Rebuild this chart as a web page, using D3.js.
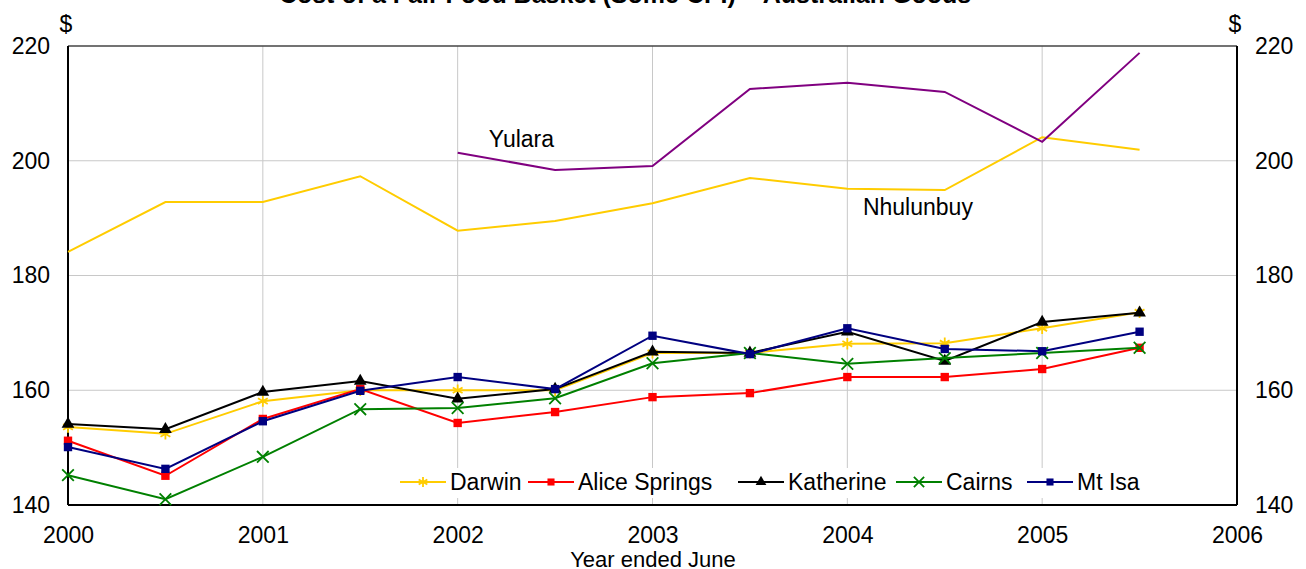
<!DOCTYPE html>
<html>
<head>
<meta charset="utf-8">
<script src="https://cdn.jsdelivr.net/npm/d3@7"></script>
<style>
  body { margin: 0; background: #fff; }
  text { font-family: "Liberation Sans", Arial, sans-serif; fill: #000; }
</style>
</head>
<body>
<div id="chart"></div>
<script>
var svgWidth = 1306;
var svgHeight = 569;

var margin = { top: 46, right: 69, bottom: 64, left: 68 };
var width = svgWidth - margin.left - margin.right;
var height = svgHeight - margin.top - margin.bottom;

// half-year observations, year ended June
var periods = [2000, 2000.5, 2001, 2001.5, 2002, 2002.5, 2003, 2003.5, 2004, 2004.5, 2005, 2005.5];
var yularaPeriods = [2002, 2002.5, 2003, 2003.5, 2004, 2004.5, 2005, 2005.5];

var darwin      = [153.6, 152.4, 158.1, 160.0, 160.0, 160.0, 166.5, 166.5, 168.1, 168.2, 170.8, 173.6];
var aliceSprings = [151.2, 145.1, 155.0, 160.2, 154.3, 156.2, 158.8, 159.5, 162.3, 162.3, 163.7, 167.4];
var katherine   = [154.1, 153.2, 159.7, 161.6, 158.5, 160.2, 166.7, 166.5, 170.2, 165.1, 171.9, 173.5];
var cairns      = [145.2, 141.0, 148.4, 156.7, 156.9, 158.6, 164.7, 166.5, 164.6, 165.6, 166.5, 167.4];
var mtIsa       = [150.1, 146.3, 154.6, 159.9, 162.3, 160.2, 169.5, 166.3, 170.8, 167.2, 166.8, 170.2];
var nhulunbuy   = [184.1, 192.8, 192.8, 197.3, 187.8, 189.5, 192.6, 197.0, 195.1, 194.9, 204.1, 201.9];
var yulara      = [201.4, 198.4, 199.1, 212.5, 213.6, 212.0, 203.3, 218.8];

var xTicks = [2000, 2001, 2002, 2003, 2004, 2005, 2006];
var yTicks = [140, 160, 180, 200, 220];

var markedSeries = [
  { name: "Darwin", values: darwin, color: "#ffcc00", symbol: d3.symbolAsterisk, fill: false },
  { name: "Alice Springs", values: aliceSprings, color: "#ff0000", symbol: d3.symbolSquare, fill: true },
  { name: "Katherine", values: katherine, color: "#000000", symbol: d3.symbolTriangle, fill: true },
  { name: "Cairns", values: cairns, color: "#008000", symbol: d3.symbolTimes, fill: false },
  { name: "Mt Isa", values: mtIsa, color: "#000080", symbol: d3.symbolSquare, fill: true }
];

var fontSize = 23;

var svg = d3.select("#chart")
  .append("svg")
  .attr("width", svgWidth)
  .attr("height", svgHeight);

// title, mostly cut off at the top edge in the source
svg.append("text")
  .attr("x", 625)
  .attr("y", 3)
  .attr("text-anchor", "middle")
  .attr("font-size", 25)
  .attr("font-weight", "bold")
  .text("Cost of a Fair Food Basket (Some CPI) – Australian Goods");

var chart = svg.append("g")
  .attr("transform", `translate(${margin.left}, ${margin.top})`);

var xScale = d3.scaleLinear().domain([2000, 2006]).range([0, width]);
var yScale = d3.scaleLinear().domain([140, 220]).range([height, 0]);

// gridlines
chart.append("g")
  .selectAll("line")
  .data(yTicks.slice(1, -1))
  .enter()
  .append("line")
  .attr("x1", 0).attr("x2", width)
  .attr("y1", d => yScale(d)).attr("y2", d => yScale(d))
  .attr("stroke", "#c8c8c8").attr("stroke-width", 1);

chart.append("g")
  .selectAll("line")
  .data(xTicks.slice(1, -1))
  .enter()
  .append("line")
  .attr("x1", d => xScale(d)).attr("x2", d => xScale(d))
  .attr("y1", 0).attr("y2", height)
  .attr("stroke", "#c8c8c8").attr("stroke-width", 1);

// axes
var leftAxis = d3.axisLeft(yScale).tickValues(yTicks).tickSize(0).tickPadding(18);
var rightAxis = d3.axisRight(yScale).tickValues(yTicks).tickSize(0).tickPadding(18);
var bottomAxis = d3.axisBottom(xScale).tickValues(xTicks).tickSize(0).tickPadding(22).tickFormat(d3.format("d"));

function styleAxis(g) {
  g.select(".domain").remove();
  g.selectAll("text").attr("font-size", fontSize).attr("font-family", "Liberation Sans, Arial, sans-serif");
}

chart.append("g").call(leftAxis).call(styleAxis);
chart.append("g").attr("transform", `translate(${width}, 0)`).call(rightAxis).call(styleAxis);
chart.append("g").attr("transform", `translate(0, ${height})`).call(bottomAxis).call(styleAxis);

// frame
chart.append("line").attr("x1", 0).attr("x2", width).attr("y1", 0).attr("y2", 0)
  .attr("stroke", "#444").attr("stroke-width", 1.5);
chart.append("line").attr("x1", 0).attr("x2", 0).attr("y1", 0).attr("y2", height)
  .attr("stroke", "#000").attr("stroke-width", 2);
chart.append("line").attr("x1", width).attr("x2", width).attr("y1", 0).attr("y2", height)
  .attr("stroke", "#000").attr("stroke-width", 2);
chart.append("line").attr("x1", 0).attr("x2", width).attr("y1", height).attr("y2", height)
  .attr("stroke", "#000").attr("stroke-width", 2);

// units
svg.append("text").attr("x", margin.left - 2).attr("y", 32).attr("text-anchor", "middle")
  .attr("font-size", fontSize).text("$");
svg.append("text").attr("x", margin.left + width - 2).attr("y", 32).attr("text-anchor", "middle")
  .attr("font-size", fontSize).text("$");

svg.append("text")
  .attr("x", 653)
  .attr("y", 567)
  .attr("text-anchor", "middle")
  .attr("font-size", 22)
  .text("Year ended June");

var line = d3.line()
  .x(d => xScale(d[0]))
  .y(d => yScale(d[1]));

// unmarked lines
chart.append("path")
  .datum(periods.map((p, i) => [p, nhulunbuy[i]]))
  .attr("d", line)
  .attr("fill", "none").attr("stroke", "#ffcc00").attr("stroke-width", 2);

chart.append("path")
  .datum(yularaPeriods.map((p, i) => [p, yulara[i]]))
  .attr("d", line)
  .attr("fill", "none").attr("stroke", "#800080").attr("stroke-width", 2);

chart.append("text").attr("x", xScale(2002.16)).attr("y", yScale(202.4)).attr("font-size", fontSize).text("Yulara");
chart.append("text").attr("x", xScale(2004.08)).attr("y", yScale(190.6)).attr("font-size", fontSize).text("Nhulunbuy");

function marker(sel, s, size) {
  sel.attr("d", d3.symbol(s.symbol, size)())
    .attr("fill", s.fill ? s.color : "none")
    .attr("stroke", s.color)
    .attr("stroke-width", s.fill ? 0 : 1.8);
}

markedSeries.forEach(function(s) {
  var pts = periods.map((p, i) => [p, s.values[i]]);
  chart.append("path")
    .datum(pts)
    .attr("d", line)
    .attr("fill", "none").attr("stroke", s.color).attr("stroke-width", 2);

  chart.append("g")
    .selectAll("path")
    .data(pts)
    .enter()
    .append("path")
    .attr("transform", d => `translate(${xScale(d[0])}, ${yScale(d[1])})`)
    .call(marker, s, s.fill ? 70 : 90);
});

// legend
var legendX = [400, 528, 738, 896, 1027];
var legend = svg.append("g");
legend.append("rect").attr("x", 392).attr("y", 468).attr("width", 770).attr("height", 30).attr("fill", "#fff");
markedSeries.forEach(function(s, i) {
  var g = legend.append("g").attr("transform", `translate(${legendX[i]}, 482)`);
  g.append("line").attr("x1", 0).attr("x2", 46).attr("y1", 0).attr("y2", 0)
    .attr("stroke", s.color).attr("stroke-width", 2);
  g.append("path").attr("transform", "translate(23, 0)").call(marker, s, s.fill ? 50 : 70);
  g.append("text").attr("x", 50).attr("y", 0).attr("dy", "0.35em").attr("font-size", fontSize).text(s.name);
});
</script>
</body>
</html>
